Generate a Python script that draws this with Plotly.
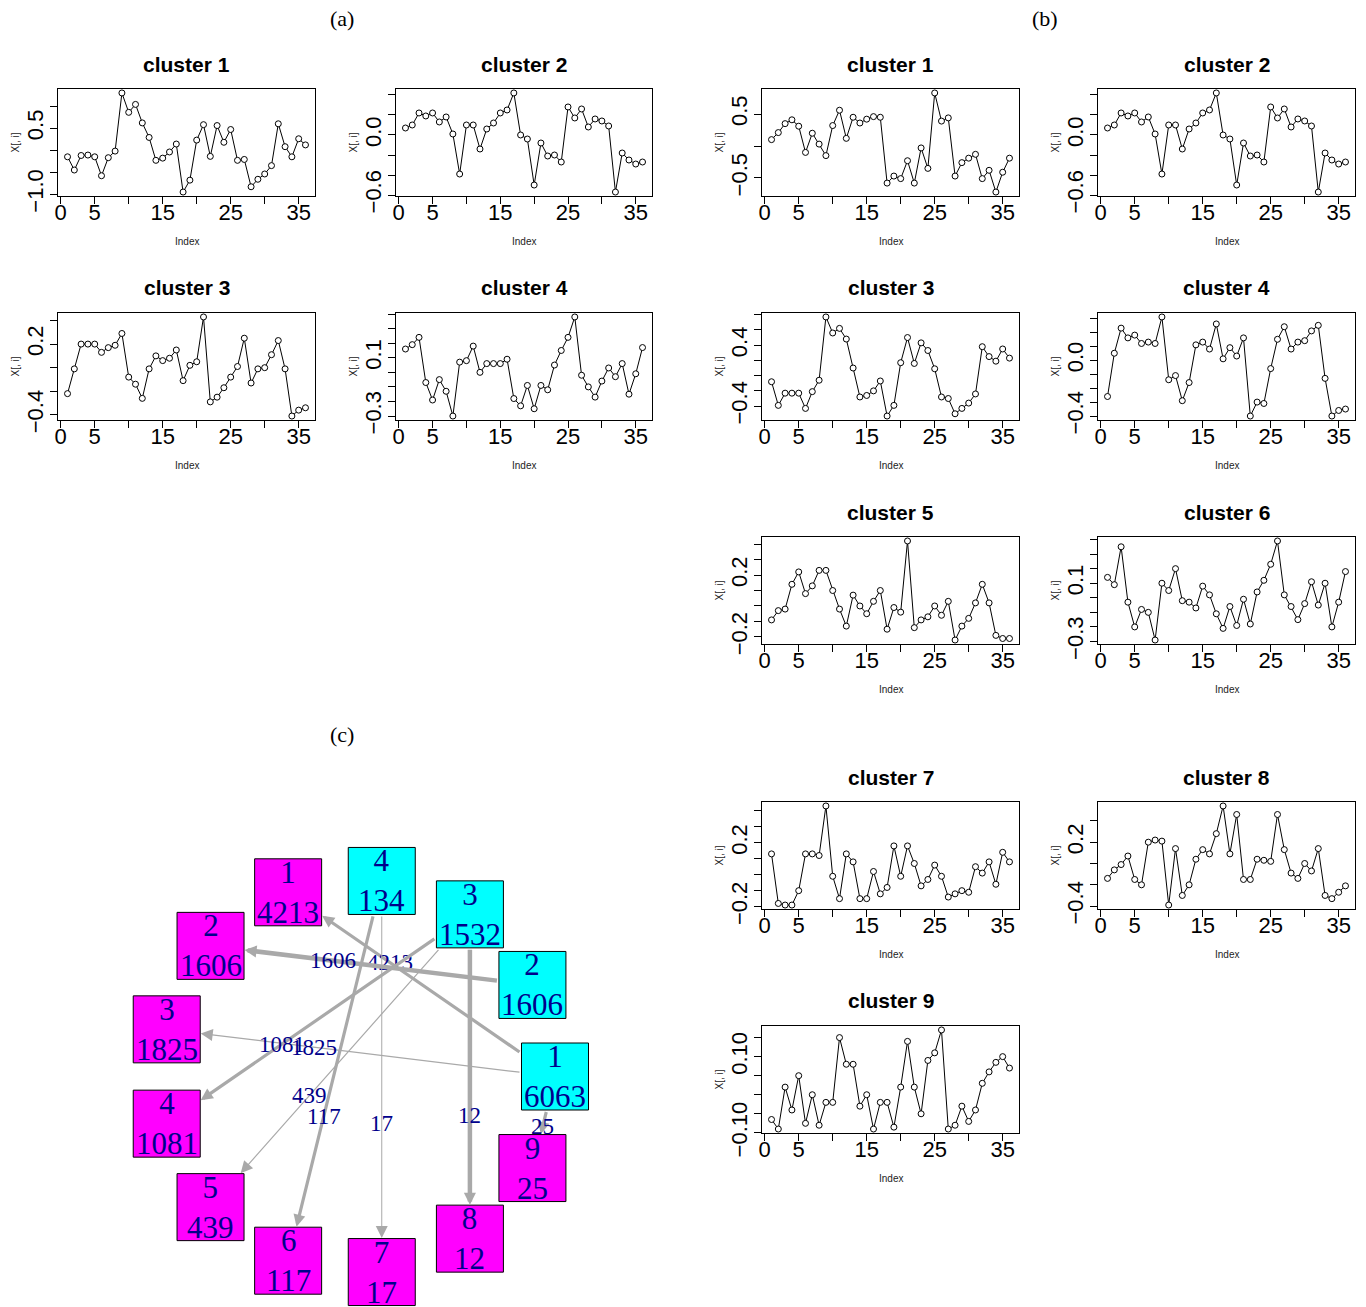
import math
import plotly.graph_objects as go

W, H = 1366, 1307

# ---------------- data ----------------
index = list(range(1, 37))

a_cluster1 = [-0.15, -0.45, -0.12, -0.11, -0.15, -0.58, -0.17, -0.02, 1.30, 0.86, 1.04, 0.62,
              0.29, -0.23, -0.18, -0.04, 0.14, -0.95, -0.68, 0.23, 0.58, -0.14, 0.56, 0.18,
              0.47, -0.23, -0.21, -0.83, -0.66, -0.54, -0.35, 0.60, 0.08, -0.15, 0.26, 0.12]
a_cluster2 = [0.07, 0.10, 0.22, 0.19, 0.22, 0.13, 0.18, 0.01, -0.39, 0.10, 0.10, -0.14,
              0.06, 0.12, 0.22, 0.25, 0.42, 0.00, -0.04, -0.50, -0.08, -0.21, -0.20, -0.27,
              0.28, 0.17, 0.26, 0.08, 0.16, 0.14, 0.09, -0.57, -0.18, -0.25, -0.29, -0.27]
a_cluster3 = [-0.22, -0.01, 0.20, 0.20, 0.20, 0.13, 0.17, 0.19, 0.29, -0.08, -0.14, -0.26,
              -0.01, 0.10, 0.06, 0.08, 0.15, -0.11, 0.02, 0.05, 0.43, -0.29, -0.25, -0.17,
              -0.08, 0.01, 0.25, -0.13, -0.01, 0.00, 0.11, 0.23, -0.01, -0.41, -0.36, -0.34]
a_cluster4 = [0.16, 0.19, 0.24, -0.07, -0.19, -0.05, -0.13, -0.30, 0.07, 0.08, 0.18, 0.00,
              0.06, 0.06, 0.06, 0.09, -0.18, -0.23, -0.09, -0.25, -0.09, -0.12, 0.05, 0.15,
              0.24, 0.38, -0.02, -0.10, -0.17, -0.06, 0.03, -0.03, 0.06, -0.15, -0.01, 0.17]

b_cluster1 = [0.10, 0.21, 0.35, 0.41, 0.31, -0.10, 0.20, 0.03, -0.15, 0.32, 0.56, 0.12,
              0.45, 0.36, 0.42, 0.46, 0.45, -0.58, -0.47, -0.51, -0.23, -0.58, -0.03, -0.35,
              0.83, 0.39, 0.44, -0.47, -0.26, -0.19, -0.13, -0.51, -0.38, -0.72, -0.41, -0.19]
b_cluster2 = [0.07, 0.10, 0.22, 0.19, 0.22, 0.13, 0.18, 0.01, -0.39, 0.10, 0.10, -0.14,
              0.06, 0.12, 0.22, 0.25, 0.42, 0.00, -0.04, -0.50, -0.08, -0.21, -0.20, -0.27,
              0.28, 0.17, 0.26, 0.08, 0.16, 0.14, 0.09, -0.57, -0.18, -0.25, -0.29, -0.27]
b_cluster3 = [-0.08, -0.39, -0.23, -0.23, -0.23, -0.43, -0.21, -0.06, 0.77, 0.56, 0.62, 0.48,
              0.10, -0.28, -0.26, -0.20, -0.07, -0.53, -0.39, 0.17, 0.50, 0.16, 0.43, 0.33,
              0.09, -0.28, -0.30, -0.50, -0.43, -0.36, -0.24, 0.38, 0.25, 0.19, 0.35, 0.23]
b_cluster4 = [-0.26, 0.05, 0.23, 0.16, 0.18, 0.12, 0.13, 0.12, 0.31, -0.14, -0.11, -0.29,
              -0.16, 0.11, 0.13, 0.08, 0.26, 0.01, 0.09, 0.03, 0.16, -0.40, -0.30, -0.31,
              -0.06, 0.15, 0.24, 0.08, 0.13, 0.14, 0.21, 0.25, -0.13, -0.40, -0.36, -0.35]
b_cluster5 = [-0.09, -0.03, -0.02, 0.14, 0.22, 0.08, 0.13, 0.23, 0.23, 0.10, -0.02, -0.13,
              0.07, 0.00, -0.05, 0.03, 0.10, -0.15, -0.01, -0.04, 0.42, -0.14, -0.09, -0.07,
              0.00, -0.06, 0.03, -0.22, -0.13, -0.08, 0.02, 0.14, 0.02, -0.19, -0.21, -0.21]
b_cluster6 = [0.14, 0.09, 0.35, -0.03, -0.20, -0.08, -0.10, -0.29, 0.10, 0.05, 0.20, -0.02,
              -0.03, -0.07, 0.08, 0.02, -0.11, -0.21, -0.06, -0.19, -0.01, -0.18, 0.04, 0.12,
              0.23, 0.39, 0.02, -0.06, -0.15, -0.04, 0.11, -0.05, 0.10, -0.20, -0.03, 0.18]
b_cluster7 = [0.13, -0.18, -0.19, -0.19, -0.10, 0.13, 0.13, 0.12, 0.43, -0.01, -0.15, 0.13,
              0.08, -0.15, -0.15, 0.02, -0.12, -0.08, 0.18, -0.01, 0.18, 0.07, -0.07, -0.03,
              0.06, -0.01, -0.14, -0.12, -0.10, -0.11, 0.05, 0.01, 0.08, -0.06, 0.14, 0.08]
b_cluster8 = [-0.14, -0.06, -0.01, 0.07, -0.15, -0.20, 0.20, 0.22, 0.21, -0.39, 0.14, -0.30,
              -0.20, 0.04, 0.13, 0.09, 0.28, 0.54, 0.09, 0.46, -0.15, -0.15, 0.04, 0.03,
              0.02, 0.46, 0.13, -0.09, -0.14, 0.00, -0.07, 0.14, -0.30, -0.33, -0.27, -0.21]
b_cluster9 = [-0.065, -0.09, 0.02, -0.04, 0.05, -0.075, 0.00, -0.08, -0.02, -0.02, 0.15, 0.08,
              0.08, -0.03, 0.00, -0.09, -0.02, -0.02, -0.085, 0.02, 0.14, 0.02, -0.05, 0.09,
              0.11, 0.17, -0.09, -0.08, -0.03, -0.07, -0.04, 0.03, 0.06, 0.085, 0.10, 0.07]

x_tickvals = [0, 5, 10, 15, 20, 25, 30, 35]
x_ticktext = ['0', '5', '', '15', '', '25', '', '35']

yt_a1 = ([-1.0, -0.5, 0.0, 0.5, 1.0], ['\u22121.0', '', '', '0.5', ''])
yt_c2 = ([-0.6, -0.4, -0.2, 0.0, 0.2, 0.4], ['\u22120.6', '', '', '0.0', '', ''])
yt_a3 = ([-0.4, -0.2, 0.0, 0.2, 0.4], ['\u22120.4', '', '', '0.2', ''])
yt_a4 = ([-0.3, -0.2, -0.1, 0.0, 0.1, 0.2, 0.3, 0.4], ['\u22120.3', '', '', '', '0.1', '', '', ''])
yt_b1 = ([-0.5, 0.0, 0.5], ['\u22120.5', '', '0.5'])
yt_b3 = ([-0.4, -0.2, 0.0, 0.2, 0.4, 0.6, 0.8], ['\u22120.4', '', '', '', '0.4', '', ''])
yt_b4 = ([-0.4, -0.3, -0.2, -0.1, 0.0, 0.1, 0.2, 0.3], ['\u22120.4', '', '', '', '0.0', '', '', ''])
yt_b5 = ([-0.2, -0.1, 0.0, 0.1, 0.2, 0.3, 0.4], ['\u22120.2', '', '', '', '0.2', '', ''])
yt_b8 = ([-0.4, -0.2, 0.0, 0.2, 0.4], ['\u22120.4', '', '', '0.2', ''])
yt_b9 = ([-0.10, -0.05, 0.0, 0.05, 0.10, 0.15], ['\u22120.10', '', '', '', '0.10', ''])

# network data (c)
prev_sizes = [6063, 1606, 1532, 134]
next_sizes = [4213, 1606, 1825, 1081, 439, 117, 17, 12, 25]
edge_from = [1, 1, 1, 2, 3, 3, 3, 4, 4]
edge_to = [1, 3, 9, 2, 4, 5, 8, 6, 7]
edge_count = [4213, 1825, 25, 1606, 1081, 439, 12, 117, 17]

# ---------------- layout (pixels) ----------------
COLS = {'a1': (58, 315), 'a2': (396, 652), 'b1': (762, 1019), 'b2': (1098, 1355)}
ROWS = [(89, 196), (313, 420), (537, 644), (802, 909), (1026, 1133)]

panels = [
    ('cluster 1', a_cluster1, yt_a1, 'a1', 0),
    ('cluster 2', a_cluster2, yt_c2, 'a2', 0),
    ('cluster 3', a_cluster3, yt_a3, 'a1', 1),
    ('cluster 4', a_cluster4, yt_a4, 'a2', 1),
    ('cluster 1', b_cluster1, yt_b1, 'b1', 0),
    ('cluster 2', b_cluster2, yt_c2, 'b2', 0),
    ('cluster 3', b_cluster3, yt_b3, 'b1', 1),
    ('cluster 4', b_cluster4, yt_b4, 'b2', 1),
    ('cluster 5', b_cluster5, yt_b5, 'b1', 2),
    ('cluster 6', b_cluster6, yt_a4, 'b2', 2),
    ('cluster 7', b_cluster7, yt_b5, 'b1', 3),
    ('cluster 8', b_cluster8, yt_b8, 'b2', 3),
    ('cluster 9', b_cluster9, yt_b9, 'b1', 4),
]

SANS = 'Liberation Sans, Arial, sans-serif'
SERIF = 'Liberation Serif, Times New Roman, serif'


def px(xp):
    return xp / W


def py(yp):
    return 1 - yp / H


fig = go.Figure()
layout = dict(width=W, height=H, margin=dict(l=0, r=0, t=0, b=0),
              paper_bgcolor='white', plot_bgcolor='white', showlegend=False,
              template='none', font=dict(family=SANS, color='black'))
annotations = []

for i, (title, vals, (ytv, ytt), col, row) in enumerate(panels, start=1):
    x0, x1 = COLS[col]
    y0, y1 = ROWS[row]
    xa = 'x' if i == 1 else f'x{i}'
    ya = 'y' if i == 1 else f'y{i}'
    lo, hi = min(vals), max(vals)
    pad = 0.04 * (hi - lo)
    fig.add_trace(go.Scatter(
        x=index, y=vals, mode='lines+markers', xaxis=xa, yaxis=ya,
        line=dict(color='black', width=1),
        marker=dict(symbol='circle', size=6, color='white', line=dict(color='black', width=1)),
        hoverinfo='skip', cliponaxis=False))
    axcommon = dict(showline=True, linecolor='black', linewidth=1, mirror=True,
                    ticks='outside', ticklen=7, tickwidth=1, tickcolor='black',
                    showgrid=False, zeroline=False, automargin=False,
                    tickfont=dict(family=SANS, size=22, color='black'))
    layout['xaxis' if i == 1 else f'xaxis{i}'] = dict(
        domain=[px(x0), px(x1)], range=[1 - 1.4, 36 + 1.4], anchor=ya,
        tickvals=x_tickvals, ticktext=x_ticktext, ticklabelstandoff=-10, **axcommon)
    layout['yaxis' if i == 1 else f'yaxis{i}'] = dict(
        domain=[py(y1), py(y0)], range=[lo - pad, hi + pad], anchor=xa,
        tickvals=ytv, ticktext=ytt, tickangle=-90, ticklabelstandoff=-2, **axcommon)
    cx = (x0 + x1) / 2
    annotations.append(dict(text=f'<b>{title}</b>', x=px(cx), y=py(y0 - 25), xref='paper',
                            yref='paper', showarrow=False, xanchor='center', yanchor='middle',
                            font=dict(family=SANS, size=21, color='black')))
    annotations.append(dict(text='Index', x=px(cx), y=py(y1 + 45), xref='paper', yref='paper',
                            showarrow=False, xanchor='center', yanchor='middle',
                            font=dict(family=SANS, size=10, color='#222')))
    annotations.append(dict(text='X[, i]', x=px(x0 - 43), y=py((y0 + y1) / 2), xref='paper',
                            yref='paper', showarrow=False, textangle=-90, xanchor='center',
                            yanchor='middle', font=dict(family=SANS, size=10, color='#222')))

# panel letters
for lab, xx, yy in [('(a)', 342, 19), ('(b)', 1045, 19), ('(c)', 342, 734)]:
    annotations.append(dict(text=lab, x=px(xx), y=py(yy), xref='paper', yref='paper',
                            showarrow=False, xanchor='center', yanchor='middle',
                            font=dict(family=SERIF, size=22, color='black')))

# ---------------- network (c) ----------------
NC = 14
CX, CY, RAD = 358, 1076.5, 197.0       # pixel centre & radius of the circle layout
DX0, DX1, DY0, DY1 = 90, 640, 760, 1307  # pixel extent of the network axes
HALF = 34 / RAD                          # half box size in layout units
EDGE_W = [3.2, 1.2, 3.2, 4.5, 3.2, 1.2, 4.5, 3.2, 1.0]
GREY = '#A9A9A9'
DBLUE = '#00008B'

node_lab = [f'{k + 1}<br>{s}' for k, s in enumerate(prev_sizes)] + \
           [f'{k + 1}<br>{s}' for k, s in enumerate(next_sizes)]
node_col = ['#00FFFF'] * len(prev_sizes) + ['#FF00FF'] * len(next_sizes)
n = len(node_lab)
nx = [math.cos(2 * math.pi * k / n) for k in range(n)]
ny = [math.sin(2 * math.pi * k / n) for k in range(n)]

layout[f'xaxis{NC}'] = dict(domain=[px(DX0), px(DX1)], range=[(DX0 - CX) / RAD, (DX1 - CX) / RAD],
                            visible=False, anchor=f'y{NC}', automargin=False)
layout[f'yaxis{NC}'] = dict(domain=[py(DY1), py(DY0)], range=[(CY - DY1) / RAD, (CY - DY0) / RAD],
                            visible=False, anchor=f'x{NC}', automargin=False)


def border(cx_, cy_, dx, dy):
    t = HALF / max(abs(dx), abs(dy))
    return cx_ + dx * t, cy_ + dy * t


for f, t, cnt, w in zip(edge_from, edge_to, edge_count, EDGE_W):
    s = f - 1
    d = len(prev_sizes) + t - 1
    dx, dy = nx[d] - nx[s], ny[d] - ny[s]
    sx, sy = border(nx[s], ny[s], dx, dy)
    hx, hy = border(nx[d], ny[d], -dx, -dy)
    annotations.append(dict(x=hx, y=hy, ax=sx, ay=sy, xref=f'x{NC}', yref=f'y{NC}',
                            axref=f'x{NC}', ayref=f'y{NC}', text='', showarrow=True,
                            arrowhead=2, arrowwidth=w, arrowsize=max(0.3, 12 / (5 * w)),
                            arrowcolor=GREY))
    frac = 0.62 if math.hypot(dx, dy) > 0.6 else 0.55
    lx = nx[s] + frac * dx
    ly = ny[s] + frac * dy
    annotations.append(dict(x=lx, y=ly, xref=f'x{NC}', yref=f'y{NC}', text=str(cnt),
                            showarrow=False, font=dict(family=SERIF, size=23, color=DBLUE)))

fig.add_trace(go.Scatter(
    x=nx, y=ny, mode='markers', xaxis=f'x{NC}', yaxis=f'y{NC}', hoverinfo='skip',
    marker=dict(symbol='square', size=67, color=node_col, line=dict(color='black', width=1)),
    cliponaxis=False))
for k in range(n):
    annotations.append(dict(x=nx[k], y=ny[k], xref=f'x{NC}', yref=f'y{NC}', text=node_lab[k],
                            showarrow=False, font=dict(family=SERIF, size=31, color=DBLUE)))

layout['annotations'] = annotations
fig.update_layout(**layout)
fig.write_html('out.html', config={'displayModeBar': False},
               post_script="document.body.style.margin='0';document.body.style.overflow='hidden';")
